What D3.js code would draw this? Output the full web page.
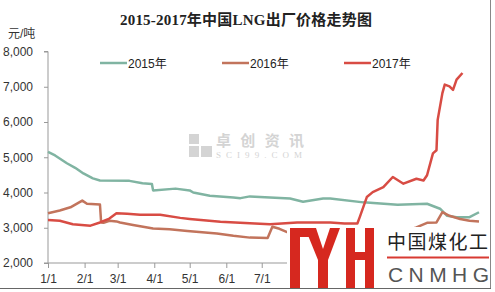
<html>
<script src="https://d3js.org/d3.v7.min.js"></script>
<style>
body {margin: 0; background: #fff;}
text {font-family: "Liberation Sans", "Noto Sans CJK SC", sans-serif;}
</style>
<body>
<svg class="lngChart" width="495" height="292"></svg>
<script>
// price data: [day of year, yuan/ton]
const series2015 = [[0,5150],[6,5050],[16,4830],[23,4700],[30,4540],[38,4400],[44,4340],[69,4330],[80,4260],[88,4240],[89,4060],[108,4110],[120,4060],[123,4000],[137,3910],[157,3860],[163,3840],[171,3890],[188,3860],[205,3830],[216,3740],[233,3830],[239,3830],[267,3720],[296,3650],[321,3680],[332,3540],[338,3340],[346,3300],[357,3300],[365,3440]];
const series2016 = [[0,3410],[10,3490],[19,3580],[29,3770],[33,3680],[44,3660],[45,3150],[47,3140],[52,3200],[58,3180],[61,3150],[72,3080],[89,2980],[103,2960],[118,2910],[143,2840],[157,2770],[171,2720],[186,2710],[190,3030],[196,2970],[202,2880],[213,2870],[256,2900],[307,2950],[312,3010],[321,3140],[329,3150],[334,3440],[340,3340],[349,3250],[357,3200],[365,3180]];
const series2017 = [[0,3220],[10,3200],[21,3100],[36,3060],[44,3150],[52,3260],[58,3410],[67,3400],[78,3370],[95,3370],[112,3280],[120,3250],[146,3170],[171,3130],[188,3100],[211,3150],[239,3150],[251,3120],[262,3120],[264,3300],[270,3870],[275,4010],[284,4150],[292,4440],[301,4250],[312,4390],[318,4340],[321,4490],[326,5110],[329,5200],[330,6060],[334,6820],[336,7060],[340,7010],[343,6910],[346,7200],[351,7390]];
const seriesNames = ["2015年", "2016年", "2017年"];
const monthStarts = [0,31,59,90,120,151,181,212,243,273,304,334];
// labels after 7/1 sit under the logo in the source image
const monthLabels = ["1/1","2/1","3/1","4/1","5/1","6/1","7/1","","","","",""];
const yTicks = [2000,3000,4000,5000,6000,7000,8000];

const svg = d3.select(".lngChart");
const colors = ["#80b4a2", "#c2745c", "#d84c44"];

var xScale = d3.scaleLinear().domain([0, 365]).range([48, 479]);
var yScale = d3.scaleLinear().domain([2000, 8000]).range([263, 51.5]);

// title
svg.append("text")
  .attr("x", 246).attr("y", 25)
  .attr("text-anchor", "middle")
  .attr("textLength", 252).attr("lengthAdjust", "spacing")
  .style("font-family", "'Liberation Serif', 'Noto Sans CJK SC', serif")
  .style("font-weight", "bold").style("font-size", "15px").style("fill", "#222")
  .text("2015-2017年中国LNG出厂价格走势图");

// unit
svg.append("text").attr("x", 8).attr("y", 38)
  .style("font-size", "12px").style("fill", "#333").text("元/吨");

// watermark
var wm = svg.append("g").style("fill", "#d4d4d4");
wm.append("rect").attr("x", 189).attr("y", 134).attr("width", 10).attr("height", 10);
wm.append("rect").attr("x", 189).attr("y", 146).attr("width", 10).attr("height", 11);
wm.append("rect").attr("x", 201).attr("y", 146).attr("width", 11).attr("height", 11);
wm.append("text").attr("x", 216).attr("y", 146)
  .attr("textLength", 88).attr("lengthAdjust", "spacing")
  .style("font-size", "15px").style("font-weight", "bold").style("fill", "#d4d4d4").text("卓创资讯");
wm.append("text").attr("x", 216).attr("y", 158)
  .attr("textLength", 86).attr("lengthAdjust", "spacing")
  .style("font-family", "'Liberation Serif', serif")
  .style("font-size", "9px").style("fill", "#d4d4d4").text("SCI99.COM");

// axes
var yAxis = d3.axisLeft(yScale).tickValues(yTicks).tickSize(4).tickPadding(11)
  .tickFormat(d3.format(","));
var xAxis = d3.axisBottom(xScale).tickValues(monthStarts).tickSize(5).tickPadding(6)
  .tickFormat(function(d, i) { return monthLabels[i]; });

var gy = svg.append("g").attr("transform", "translate(48,0)").call(yAxis);
var gx = svg.append("g").attr("transform", "translate(0,263)").call(xAxis);
[gy, gx].forEach(function(g) {
  g.select(".domain").attr("stroke", "#999");
  g.selectAll(".tick line").attr("stroke", "#999");
  g.selectAll(".tick text").style("font-size", "12px").style("fill", "#333")
    .style("font-family", "'Liberation Sans', sans-serif");
});
gy.select(".domain").attr("d", "M-4,51.5H0V263H-4");
gx.select(".domain").attr("d", "M48,0H480");

// lines
var line = d3.line()
  .x(function(d) { return xScale(d[0]); })
  .y(function(d) { return yScale(d[1]); });

[series2015, series2016, series2017].forEach(function(s, i) {
  svg.append("path").datum(s)
    .attr("d", line)
    .attr("fill", "none")
    .attr("stroke", colors[i])
    .attr("stroke-width", 2.5)
    .attr("stroke-linejoin", "round");
});

// legend
var legendX = [100, 222, 344];
seriesNames.forEach(function(n, i) {
  svg.append("line").attr("x1", legendX[i]).attr("x2", legendX[i] + 27)
    .attr("y1", 63).attr("y2", 63)
    .attr("stroke", colors[i]).attr("stroke-width", 2.5);
  svg.append("text").attr("x", legendX[i] + 28).attr("y", 67.5)
    .style("font-size", "12px").style("fill", "#222").text(n);
});

// logo overlay
var logo = svg.append("g");
logo.append("rect").attr("x", 287).attr("y", 227).attr("width", 203).attr("height", 61).attr("fill", "#fff");
var red = "#d6281f";
logo.append("rect").attr("x", 290).attr("y", 228).attr("width", 10).attr("height", 60).attr("fill", red);
logo.append("rect").attr("x", 290).attr("y", 228).attr("width", 26).attr("height", 9).attr("fill", red);
logo.append("polygon")
  .attr("points", "305,228 316,228 323,249 330,228 340,228 328,260 328,288 318,288 318,260")
  .attr("fill", red);
logo.append("rect").attr("x", 346).attr("y", 228).attr("width", 9).attr("height", 60).attr("fill", red);
logo.append("rect").attr("x", 365).attr("y", 228).attr("width", 9).attr("height", 60).attr("fill", red);
logo.append("rect").attr("x", 346).attr("y", 252).attr("width", 28).attr("height", 8).attr("fill", red);
logo.append("text").attr("x", 387).attr("y", 249)
  .attr("textLength", 101).attr("lengthAdjust", "spacing")
  .style("font-size", "19px").style("fill", "#222").text("中国煤化工");
logo.append("line").attr("x1", 387).attr("x2", 489).attr("y1", 257.5).attr("y2", 257.5)
  .attr("stroke", "#d83a32").attr("stroke-width", 2);
logo.append("text").attr("x", 388).attr("y", 282)
  .attr("textLength", 101).attr("lengthAdjust", "spacing")
  .style("font-size", "21px").style("font-weight", "300").style("fill", "#555").text("CNMHG");

// frame
svg.append("line").attr("x1", 490.5).attr("x2", 490.5).attr("y1", 0).attr("y2", 288)
  .attr("stroke", "#888");
svg.append("line").attr("x1", 0).attr("x2", 491).attr("y1", 288.5).attr("y2", 288.5)
  .attr("stroke", "#666");
</script>
</body>
</html>
